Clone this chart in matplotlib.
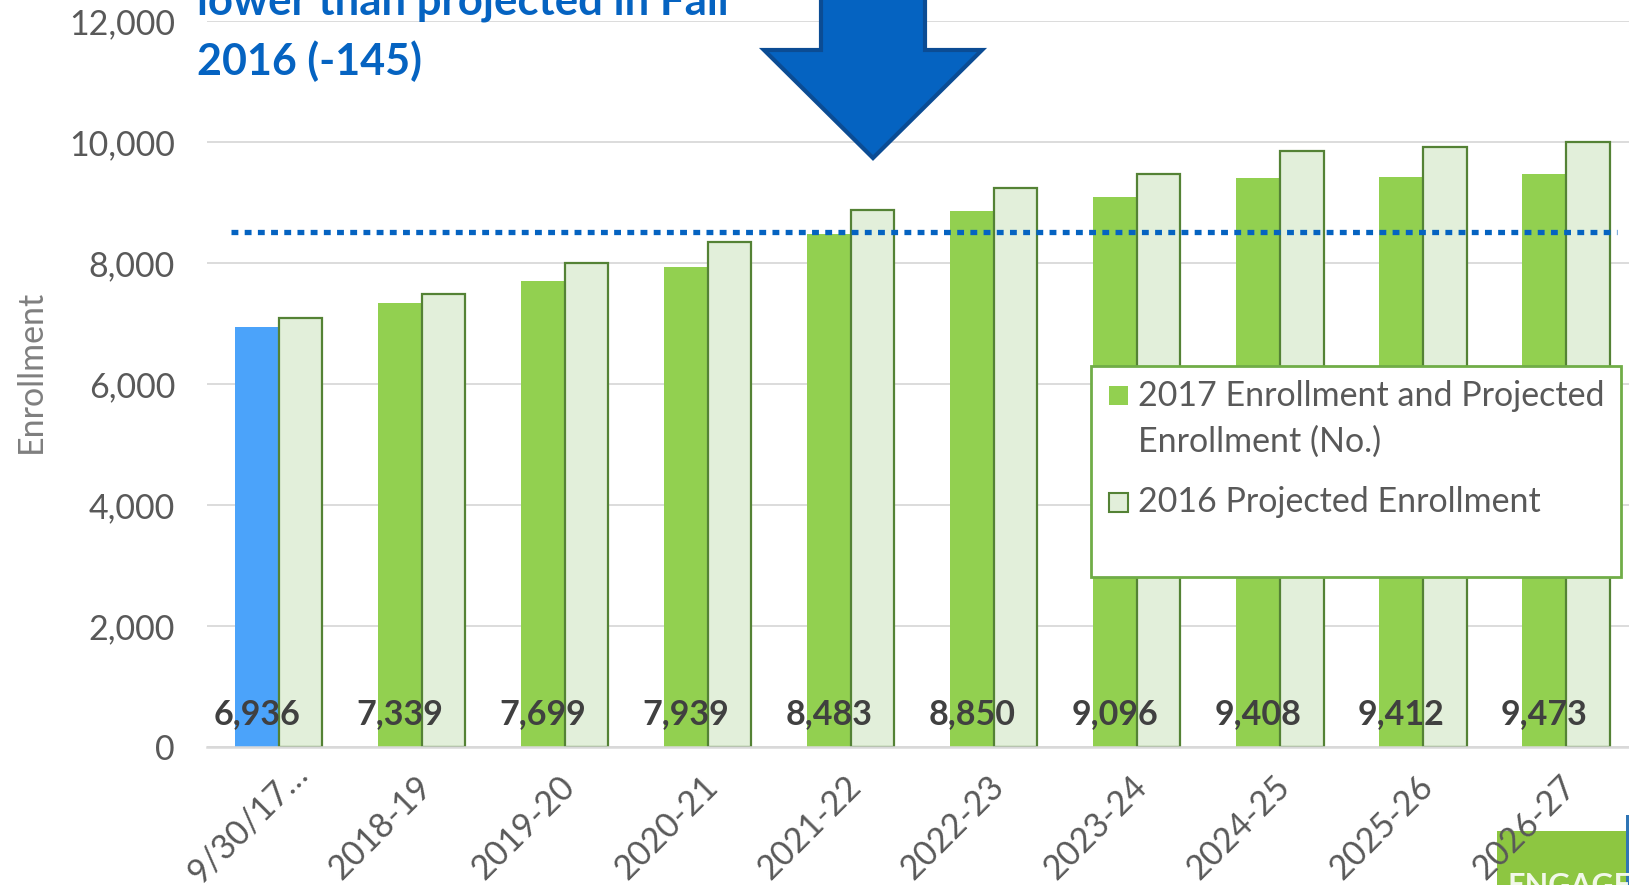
import matplotlib
matplotlib.use("Agg")
import matplotlib.pyplot as plt
from matplotlib.patches import Rectangle, Polygon
from matplotlib.transforms import ScaledTranslation

plt.rcParams['font.family'] = ['Lato', 'DejaVu Sans']

# ---- data ----
categories = ["9/30/17…", "2018-19", "2019-20", "2020-21", "2021-22",
              "2022-23", "2023-24", "2024-25", "2025-26", "2026-27"]
enroll_2017 = [6936, 7339, 7699, 7939, 8483, 8850, 9096, 9408, 9412, 9473]
projected_2016 = [7081, 7480, 8005, 8350, 8880, 9245, 9475, 9855, 9910, 9995]
target_level = 8515
y_ticks = [0, 2000, 4000, 6000, 8000, 10000, 12000]
legend_lines_1 = ["2017 Enrollment and Projected", "Enrollment (No.)"]
legend_line_2 = "2016 Projected Enrollment"
title_lines = ["lower than projected in Fall", "2016 (-145)"]

W, H = 1629, 885
fig = plt.figure(figsize=(W / 100, H / 100), dpi=100)

def fx(px):
    return px / W

def fy(py):
    return 1 - py / H

ax_left, ax_right, ax_top, ax_bottom = 207, 1637.5, 20.8, 747
ax = fig.add_axes([fx(ax_left), fy(ax_bottom), (ax_right - ax_left) / W, (ax_bottom - ax_top) / H])

green = "#92D050"
blue = "#4BA3FA"
light = "#E2EFDA"
dark_green = "#548235"
gray_txt = "#595959"
FS = 24.5

w = 0.305
x = list(range(len(categories)))
c17 = [blue] + [green] * (len(categories) - 1)
ax.bar([i - w / 2 for i in x], enroll_2017, width=w, color=c17, zorder=2)
ax.bar([i + w / 2 for i in x], projected_2016, width=w, color=light,
       edgecolor=dark_green, linewidth=1.6, zorder=2)

# data labels at the base of the 2017 bars
for i, v in zip(x, enroll_2017):
    ax.text(i - w / 2, 550, f"{v:,}", ha="center", va="center", fontsize=FS,
            fontweight="bold", color="#404040", zorder=4)

# dotted reference line
ax.plot([-0.33, 9.36], [target_level, target_level], color="#0563C1", lw=3.8,
        linestyle=(0, (1.3, 1.2)), dash_capstyle="butt", zorder=3)

ax.set_xlim(-0.5, len(categories) - 0.5)
ax.set_ylim(0, 12000)
ax.set_yticks(y_ticks)
ax.set_yticklabels([f"{t:,}" for t in y_ticks])
ax.yaxis.grid(True, color="#D9D9D9", lw=1.3, zorder=0)
ax.set_axisbelow(True)
for s in ["top", "right", "left"]:
    ax.spines[s].set_visible(False)
ax.spines["bottom"].set_color("#D9D9D9")
ax.spines["bottom"].set_linewidth(1.8)
ax.tick_params(axis="y", length=0, pad=23, labelsize=FS, labelcolor=gray_txt)
ax.set_xticks(x)
ax.set_xticklabels(categories, rotation=45, ha="right", va="center",
                   rotation_mode="anchor", fontsize=FS, color=gray_txt)
ax.tick_params(axis="x", length=0, pad=25)
for k, lab in enumerate(ax.get_xticklabels()):
    dx = 24 if k == 0 else 5
    dy = 13 if k == 0 else 0
    lab.set_transform(lab.get_transform() + ScaledTranslation(dx / 100, dy / 100, fig.dpi_scale_trans))
ax.set_ylabel("Enrollment", fontsize=FS, color="#7F7F7F")
ax.yaxis.set_label_coords(-0.112, 0.517)

# legend (frame, swatches, text)
fig.patches.append(Rectangle((fx(1091), fy(577)), (1621 - 1091) / W, (577 - 366) / H,
                             transform=fig.transFigure, facecolor="white",
                             edgecolor="#70AD47", lw=2, zorder=5))
fig.patches.append(Rectangle((fx(1109), fy(405)), 19 / W, 19 / H, transform=fig.transFigure,
                             facecolor=green, edgecolor="none", zorder=6))
fig.patches.append(Rectangle((fx(1109), fy(512)), 19 / W, 19 / H, transform=fig.transFigure,
                             facecolor=light, edgecolor=dark_green, lw=1.5, zorder=6))
fig.text(fx(1138), fy(406), legend_lines_1[0], fontsize=FS, color=gray_txt,
         ha="left", va="baseline", zorder=7)
fig.text(fx(1138), fy(452), legend_lines_1[1], fontsize=FS, color=gray_txt,
         ha="left", va="baseline", zorder=7)
fig.text(fx(1138), fy(512), legend_line_2, fontsize=FS, color=gray_txt,
         ha="left", va="baseline", zorder=7)

# big arrow
arrow_px = [(821, -20), (925, -20), (925, 50), (982, 50), (873, 158), (764, 50), (821, 50)]
fig.patches.append(Polygon([(fx(a), fy(b)) for a, b in arrow_px], closed=True,
                           transform=fig.transFigure, facecolor="#0563C1",
                           edgecolor="#0B4C94", lw=3, zorder=5))

# headline text (cropped at top)
fig.text(fx(197), fy(15), title_lines[0], fontsize=31.5, fontweight="bold",
         color="#0563C1", ha="left", va="baseline", zorder=6)
fig.text(fx(197), fy(75), title_lines[1], fontsize=31, fontweight="bold",
         color="#0563C1", ha="left", va="baseline", zorder=6)

# logo corner (behind the tick labels)
fig.patches.append(Rectangle((fx(1497), 0), (W - 1497) / W, (H - 831) / H,
                             transform=fig.transFigure, facecolor="#8DC641",
                             edgecolor="none", zorder=-1))
fig.patches.append(Rectangle((fx(1626), 0), 3 / W, (H - 815) / H,
                             transform=fig.transFigure, facecolor="#2F75B5",
                             edgecolor="none", zorder=-1))
fig.text(fx(1508), fy(872), "ENGAGE", fontsize=22, fontweight="bold",
         color="#F2F8EA", ha="left", va="top", zorder=-1)

fig.savefig("out.png", dpi=100)
